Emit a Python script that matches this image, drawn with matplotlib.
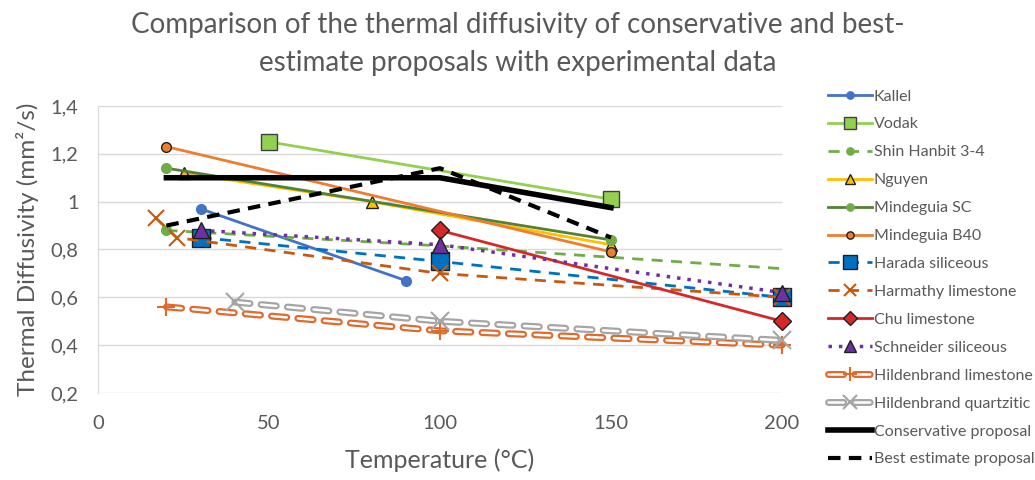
import matplotlib

matplotlib.use("Agg")

import matplotlib.pyplot as plt
import matplotlib.patheffects as pe
from matplotlib.ticker import FuncFormatter

plt.rcParams["font.family"] = ["Lato", "DejaVu Sans"]

GREY_TEXT = "#595959"

# data (temperature in °C, diffusivity in mm²/s)
kallel_t = [30, 90]
kallel_d = [0.97, 0.67]
vodak_t = [50, 150]
vodak_d = [1.25, 1.01]
shin_t = [20, 100, 200]
shin_d = [0.88, 0.815, 0.72]
nguyen_t = [25, 80, 150]
nguyen_d = [1.12, 1.00, 0.82]
mind_sc_t = [20, 150]
mind_sc_d = [1.14, 0.84]
mind_b40_t = [20, 150]
mind_b40_d = [1.23, 0.79]
harada_t = [30, 100, 200]
harada_d = [0.85, 0.75, 0.60]
harmathy_t = [17, 23, 100, 200]
harmathy_d = [0.93, 0.85, 0.70, 0.60]
chu_t = [100, 200]
chu_d = [0.88, 0.50]
schneider_t = [30, 100, 200]
schneider_d = [0.88, 0.82, 0.62]
hild_lime_t = [20, 100, 200]
hild_lime_d = [0.56, 0.46, 0.40]
hild_quartz_t = [40, 100, 200]
hild_quartz_d = [0.58, 0.50, 0.42]
conservative_t = [20, 100, 150]
conservative_d = [1.10, 1.10, 0.975]
best_t = [20, 100, 150]
best_d = [0.90, 1.14, 0.85]

fig = plt.figure(figsize=(10.35, 4.8), dpi=100)
ax = fig.add_axes([98 / 1035, 1 - 393 / 480, (782 - 98) / 1035, (393 - 106) / 480])

edge = "#1f1f1f"
kw = dict(clip_on=False)
handles = []
handles.append(ax.plot(kallel_t, kallel_d, color="#4472C4", lw=2, marker="o", ms=7, **kw)[0])
handles.append(ax.plot(vodak_t, vodak_d, color="#92D050", lw=2, marker="s", ms=11, mfc="#92D050", mec="#404040", **kw)[0])
handles.append(ax.plot(shin_t, shin_d, color="#70AD47", lw=2, ls=(0, (4, 3)), marker="o", ms=7, markevery=[0], **kw)[0])
handles.append(ax.plot(nguyen_t, nguyen_d, color="#FFC000", lw=2, marker="^", ms=9, mfc="#FFC000", mec=edge, **kw)[0])
handles.append(ax.plot(mind_sc_t, mind_sc_d, color="#548235", lw=2, marker="o", ms=7, mfc="#70AD47", mec="#70AD47", **kw)[0])
handles.append(ax.plot(mind_b40_t, mind_b40_d, color="#ED7D31", lw=2, marker="o", ms=7, mfc="#ED7D31", mec=edge, **kw)[0])
handles.append(ax.plot(harada_t, harada_d, color="#0070C0", lw=2, ls=(0, (4, 3)), marker="s", ms=13, mfc="#0070C0", mec=edge, **kw)[0])
handles.append(ax.plot(harmathy_t, harmathy_d, color="#C55A11", lw=2, ls=(0, (4, 3)), marker="x", ms=11, mew=1.5, **kw)[0])
handles.append(ax.plot(chu_t, chu_d, color="#D62828", lw=2, marker="D", ms=9, mfc="#D62828", mec=edge, **kw)[0])
handles.append(ax.plot(schneider_t, schneider_d, color="#7030A0", lw=2.5, ls=(0, (1, 2)), marker="^", ms=12, mfc="#7030A0", mec=edge, **kw)[0])


def double_line(t, d, color, marker):
    effects = [pe.Stroke(linewidth=5, foreground=color), pe.Stroke(linewidth=1.8, foreground="white")]
    line = ax.plot(t, d, color=color, lw=5, ls=(0, (2.2, 1.6)), dash_capstyle="round", path_effects=effects, **kw)[0]
    marks = ax.plot(t, d, ls="none", marker=marker, ms=13, mew=1.5, color=color, **kw)[0]
    return (line, marks)


handles.append(double_line(hild_lime_t, hild_lime_d, "#E0692C", "+"))
handles.append(double_line(hild_quartz_t, hild_quartz_d, "#A5A5A5", "x"))

handles.append(ax.plot(conservative_t, conservative_d, color="black", lw=4, **kw)[0])
handles.append(ax.plot(best_t, best_d, color="black", lw=3, ls=(0, (3, 2)), **kw)[0])

labels = ["Kallel", "Vodak", "Shin Hanbit 3-4", "Nguyen", "Mindeguia SC", "Mindeguia B40",
          "Harada siliceous", "Harmathy limestone", "Chu limestone", "Schneider siliceous",
          "Hildenbrand limestone", "Hildenbrand quartzitic", "Conservative proposal",
          "Best estimate proposal"]

ax.set_xlim(0, 200)
ax.set_ylim(0.2, 1.4)
ax.set_xticks([0, 50, 100, 150, 200])
ax.set_yticks([0.2, 0.4, 0.6, 0.8, 1.0, 1.2, 1.4])
ax.yaxis.set_major_formatter(FuncFormatter(lambda v, _: f"{v:g}".replace(".", ",")))
ax.grid(axis="y", color="#D9D9D9", lw=1)
ax.set_axisbelow(True)
for side in ["top", "right", "bottom"]:
    ax.spines[side].set_visible(False)
ax.spines["left"].set_color("#D9D9D9")
ax.tick_params(length=0, labelsize=14.5, colors=GREY_TEXT)
ax.tick_params(axis="x", pad=16)
ax.tick_params(axis="y", pad=14)

ax.set_xlabel("Temperature (°C)", fontsize=18, color=GREY_TEXT, labelpad=12)
ax.set_ylabel("Thermal Diffusivity (mm²/s)", fontsize=17.5, color=GREY_TEXT, labelpad=8)

fig.text(0.5, 0.975, "Comparison of the thermal diffusivity of conservative and best-\nestimate proposals with experimental data",
         ha="center", va="top", fontsize=20, color=GREY_TEXT, linespacing=1.55)

leg = fig.legend(handles, labels, loc="upper left", bbox_to_anchor=(822 / 1035, 1 - 83 / 480), frameon=False,
                 fontsize=11.5, labelspacing=0.86, handlelength=2.7, handletextpad=0.15, borderaxespad=0,
                 markerscale=0.75)
for text in leg.get_texts():
    text.set_color(GREY_TEXT)

fig.savefig("out.png", dpi=100)
